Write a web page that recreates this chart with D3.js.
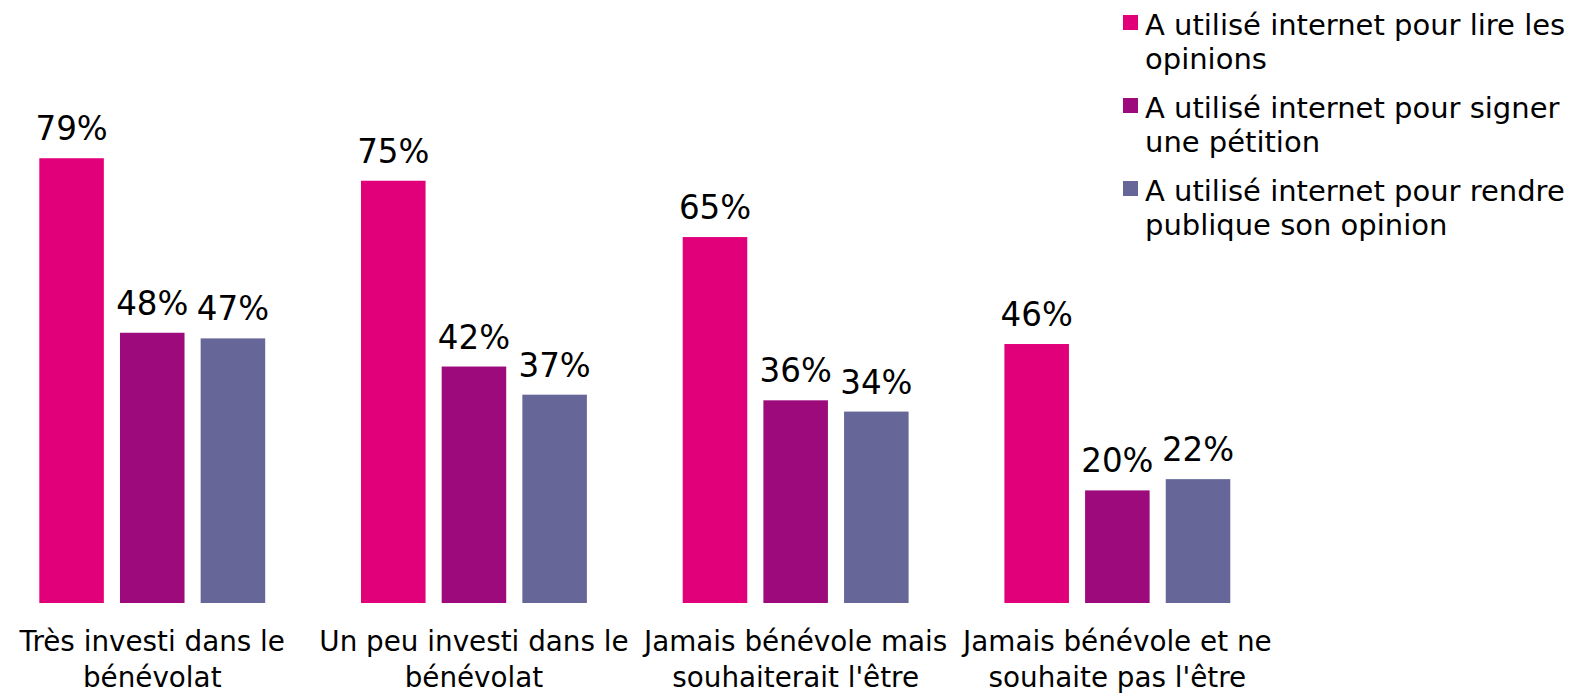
<!DOCTYPE html>
<html>
<head>
<meta charset="utf-8">
<script src="https://cdn.jsdelivr.net/npm/d3@7"></script>
<style>
  html, body { margin: 0; padding: 0; background: #fff; }
  svg { display: block; font-family: "DejaVu Sans", Verdana, sans-serif; }
</style>
</head>
<body>
<svg id="chart" width="1581" height="693"></svg>
<script>
const categories = [
  ["Très investi dans le", "bénévolat"],
  ["Un peu investi dans le", "bénévolat"],
  ["Jamais bénévole mais", "souhaiterait l'être"],
  ["Jamais bénévole et ne", "souhaite pas l'être"]
];
const seriesNames = [
  ["A utilisé internet pour lire les", "opinions"],
  ["A utilisé internet pour signer", "une pétition"],
  ["A utilisé internet pour rendre", "publique son opinion"]
];
const lireOpinions   = [79, 75, 65, 46];
const signerPetition = [48, 42, 36, 20];
const rendrePublique = [47, 37, 34, 22];
const seriesValues = [lireOpinions, signerPetition, rendrePublique];
const colors = ["#e2007a", "#9c0a7c", "#666699"];

const svg = d3.select("#chart");
const catKeys = categories.map((c, i) => i);
const serKeys = seriesNames.map((s, i) => i);

const x0 = d3.scaleBand()
  .domain(catKeys)
  .range([-8.6, -8.6 + 4 * 321.7])
  .paddingInner(0.2477)
  .paddingOuter(0.2477 / 2);
const x1 = d3.scaleBand()
  .domain(serKeys)
  .range([0, x0.bandwidth()])
  .paddingInner(0.2)
  .paddingOuter(0.1);
const y = d3.scaleLinear().domain([0, 100]).range([603, 40]);

const groups = svg.selectAll("g.grp")
  .data(catKeys)
  .join("g")
  .attr("class", "grp")
  .attr("transform", d => `translate(${x0(d)},0)`);

groups.selectAll("rect")
  .data(ci => serKeys.map(si => ({ si, v: seriesValues[si][ci] })))
  .join("rect")
  .attr("x", d => x1(d.si))
  .attr("y", d => y(d.v))
  .attr("width", x1.bandwidth())
  .attr("height", d => y(0) - y(d.v))
  .attr("fill", d => colors[d.si]);

groups.selectAll("text.val")
  .data(ci => serKeys.map(si => ({ si, v: seriesValues[si][ci] })))
  .join("text")
  .attr("class", "val")
  .attr("transform", d => `translate(${x1(d.si) + x1.bandwidth() / 2},${y(d.v) - 18}) scale(1,1.05)`)
  .attr("text-anchor", "middle")
  .attr("font-size", 32.5)
  .attr("fill", "#000")
  .text(d => d.v + "%");

// category labels
const catLabels = svg.selectAll("text.cat")
  .data(catKeys)
  .join("text")
  .attr("class", "cat")
  .attr("text-anchor", "middle")
  .attr("font-size", 27.8)
  .attr("fill", "#000");
catLabels.selectAll("tspan")
  .data(d => categories[d].map(t => ({ t, d })))
  .join("tspan")
  .attr("x", d => x0(d.d) + x0.bandwidth() / 2)
  .attr("y", (d, i) => 651 + i * 35.5)
  .text(d => d.t);

// legend
const legend = svg.append("g").attr("class", "legend");
const items = legend.selectAll("g")
  .data(serKeys)
  .join("g")
  .attr("transform", d => `translate(1123, ${35 + d * 83})`);
items.append("rect")
  .attr("x", 0).attr("y", -20)
  .attr("width", 15).attr("height", 15)
  .attr("fill", d => colors[d]);
items.append("text")
  .attr("font-size", 29)
  .attr("fill", "#000")
  .selectAll("tspan")
  .data(d => seriesNames[d])
  .join("tspan")
  .attr("x", 22)
  .attr("y", (d, i) => i * 34)
  .text(d => d);
</script>
</body>
</html>
